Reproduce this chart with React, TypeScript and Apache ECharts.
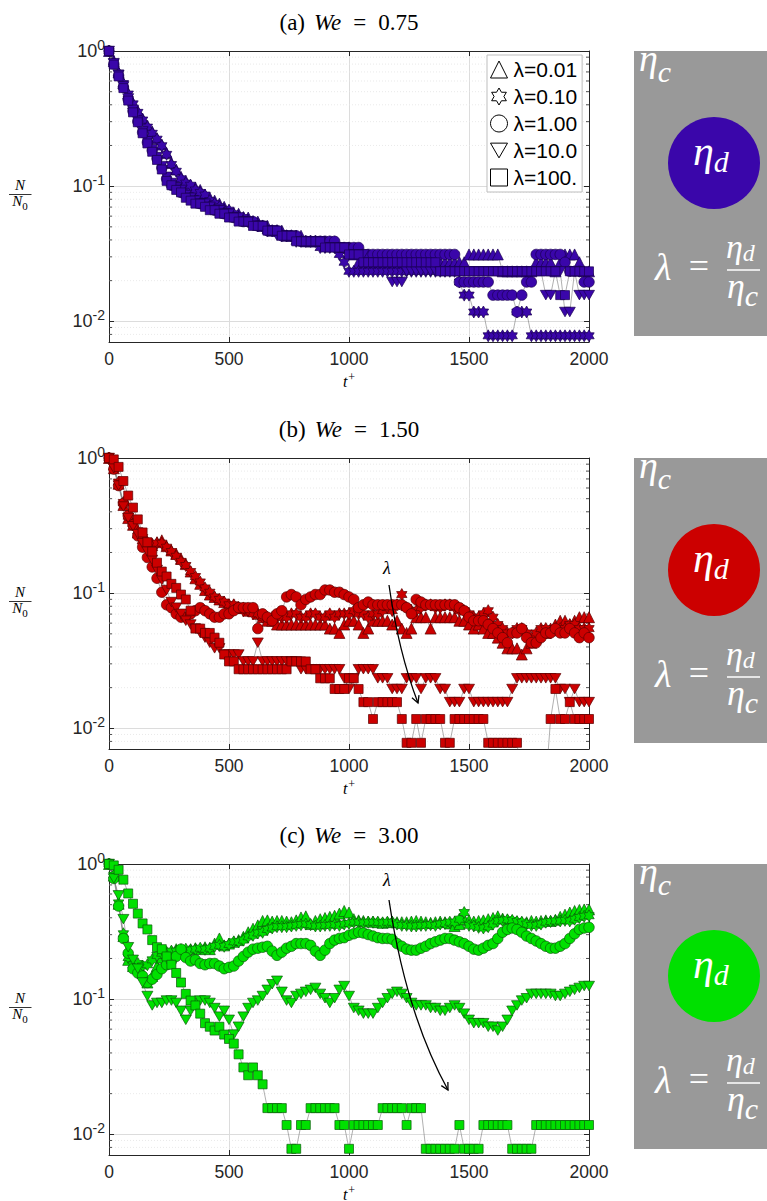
import React, { useEffect, useRef } from "react";
import * as echarts from "echarts";

// ---------------- data ----------------
const N0 = 256; // initial number of droplets (N values are counts out of N0)
const TIMES = [
  0, 20, 40, 60, 80, 100, 120, 140, 160, 180, 200, 220, 240, 260, 280, 300, 320, 340, 360, 380,
  400, 420, 440, 460, 480, 500, 520, 540, 560, 580, 600, 620, 640, 660, 680, 700, 720, 740, 760, 780,
  800, 820, 840, 860, 880, 900, 920, 940, 960, 980, 1000, 1020, 1040, 1060, 1080, 1100, 1120, 1140, 1160, 1180,
  1200, 1220, 1240, 1260, 1280, 1300, 1320, 1340, 1360, 1380, 1400, 1420, 1440, 1460, 1480, 1500, 1520, 1540, 1560, 1580,
  1600, 1620, 1640, 1660, 1680, 1700, 1720, 1740, 1760, 1780, 1800, 1820, 1840, 1860, 1880, 1900, 1920, 1940, 1960, 1980,
  2000,
];
const LAMBDA_LABELS = ["λ=0.01", "λ=0.10", "λ=1.00", "λ=10.0", "λ=100."];
const PANEL_TAGS = ["(a)", "(b)", "(c)"];
const WE_VALUES = ["0.75", "1.50", "3.00"];
const X_MIN = 0;
const X_MAX = 2000;
const X_INTERVAL = 500;
const Y_MIN = 0.00703;
const Y_MAX = 1;
const MINOR_Y = [0.008, 0.009, 0.02, 0.03, 0.04, 0.05, 0.06, 0.07, 0.08, 0.09, 0.2, 0.3, 0.4, 0.5, 0.6, 0.7, 0.8, 0.9];

// (a) We = 0.75
const A_L001 = [
  256, 215, 178, 148, 124, 105, 92, 81, 72, 65,
  58, 52, 45, 38, 34, 30, 28, 26, 25, 24,
  22, 21, 20, 19, 18, 17, 16, 16, 15, 15,
  14, 14, 13, 13, 12, 12, 12, 11, 11, 11,
  11, 10, 10, 10, 10, 10, 10, 10, 9, 9,
  9, 8, 7, 7, 7, 7, 7, 7, 7, 7,
  7, 7, 7, 7, 7, 7, 7, 7, 7, 7,
  7, 7, 7, 7, 7, 8, 8, 8, 8, 8,
  8, 8, 6, 6, 6, 6, 6, 6, 6, 7,
  7, 7, 7, 6, 7, 8, 8, 8, 7, 6,
  6,
];
const A_L01 = [
  256, 212, 176, 147, 123, 104, 90, 79, 70, 63,
  57, 51, 44, 37, 33, 29, 27, 26, 24, 23,
  22, 20, 19, 18, 17, 17, 16, 15, 15, 14,
  14, 13, 13, 12, 12, 12, 11, 11, 11, 10,
  10, 10, 10, 10, 9, 9, 9, 9, 8, 7,
  6, 6, 6, 6, 6, 6, 6, 6, 6, 6,
  6, 6, 6, 6, 6, 6, 6, 6, 6, 6,
  6, 6, 6, 5, 4, 4, 3, 3, 3, 2,
  2, 2, 2, 2, 2, 3, 3, 3, 2, 2,
  2, 2, 2, 2, 2, 2, 2, 2, 2, 2,
  2,
];
const A_L1 = [
  256, 205, 168, 138, 112, 92, 77, 64, 54, 47,
  41, 35, 29, 26, 25, 23, 22, 21, 20, 19,
  19, 18, 17, 17, 16, 16, 15, 15, 14, 14,
  14, 13, 13, 12, 12, 12, 11, 11, 11, 11,
  10, 10, 10, 10, 10, 10, 10, 10, 9, 9,
  9, 9, 9, 8, 8, 8, 8, 8, 8, 8,
  8, 8, 8, 8, 8, 8, 8, 8, 8, 8,
  8, 8, 8, 5, 5, 5, 5, 5, 5, 5,
  4, 4, 4, 4, 4, 3, 4, 5, 5, 8,
  8, 8, 8, 8, 8, 7, 6, 6, 6, 5,
  5,
];
const A_L10 = [
  256, 208, 170, 140, 114, 94, 78, 65, 55, 48,
  42, 36, 30, 27, 25, 24, 22, 21, 20, 19,
  19, 18, 17, 17, 16, 16, 15, 15, 14, 14,
  13, 13, 13, 12, 12, 11, 11, 11, 11, 10,
  10, 10, 10, 10, 10, 9, 9, 9, 9, 9,
  8, 8, 8, 8, 7, 7, 7, 7, 7, 5,
  5, 5, 6, 6, 6, 6, 6, 6, 6, 6,
  6, 6, 6, 6, 6, 6, 6, 6, 6, 6,
  6, 6, 6, 6, 6, 6, 6, 6, 6, 6,
  6, 4, 4, 6, 6, 3, 3, 6, 4, 4,
  4,
];
const A_L100 = [
  256, 203, 166, 136, 110, 90, 76, 63, 53, 46,
  40, 34, 28, 26, 24, 23, 21, 20, 19, 19,
  18, 17, 17, 16, 16, 15, 15, 14, 14, 14,
  13, 13, 13, 12, 12, 12, 11, 11, 11, 10,
  10, 10, 10, 10, 10, 9, 9, 9, 9, 9,
  8, 8, 8, 7, 7, 7, 7, 7, 7, 7,
  7, 7, 7, 7, 7, 7, 7, 7, 7, 6,
  6, 6, 6, 6, 6, 6, 6, 6, 6, 6,
  6, 6, 6, 6, 6, 6, 6, 6, 6, 6,
  6, 6, 6, 6, 4, 4, 6, 6, 6, 6,
  6,
];

// (b) We = 1.50
const B_L001 = [
  256, 215, 165, 115, 92, 82, 72, 65, 60, 58,
  61, 63, 57, 53, 50, 46, 42, 37, 33, 30,
  27, 25, 24, 23, 22, 21, 21, 20, 20, 19,
  19, 18, 17, 16, 16, 15, 15, 15, 15, 15,
  15, 15, 15, 15, 15, 15, 14, 14, 13, 15,
  16, 16, 15, 13, 14, 16, 16, 16, 16, 15,
  16, 14, 13, 14, 17, 17, 17, 14, 17, 17,
  17, 17, 17, 16, 16, 15, 14, 15, 14, 13,
  13, 12, 11, 10, 10, 10, 9, 10, 11, 12,
  13, 13, 14, 15, 16, 16, 15, 16, 17, 17,
  17,
];
const B_L01 = [
  256, 220, 170, 120, 95, 84, 74, 66, 61, 59,
  60, 60, 56, 52, 48, 44, 41, 37, 34, 31,
  28, 26, 24, 23, 22, 21, 21, 20, 19, 19,
  18, 18, 17, 17, 17, 17, 17, 17, 18, 18,
  17, 17, 18, 18, 17, 17, 18, 17, 18, 18,
  18, 19, 18, 18, 17, 18, 18, 19, 20, 19,
  21, 25, 20, 19, 19, 20, 21, 21, 20, 20,
  21, 21, 20, 19, 19, 18, 17, 17, 18, 19,
  17, 15, 14, 13, 13, 14, 14, 13, 12, 13,
  14, 14, 13, 14, 14, 14, 15, 15, 14, 14,
  14,
];
const B_L1 = [
  256, 212, 160, 118, 96, 82, 68, 56, 47, 40,
  33, 26, 21, 20, 18, 17, 17, 18, 19, 20,
  19, 18, 17, 17, 18, 18, 19, 20, 20, 20,
  20, 14, 18, 17, 16, 18, 19, 24, 25, 24,
  21, 23, 24, 25, 25, 27, 27, 26, 26, 25,
  24, 23, 20, 21, 22, 21, 21, 21, 21, 21,
  21, 21, 20, 18, 23, 22, 21, 21, 21, 21,
  21, 21, 21, 20, 19, 17, 16, 16, 16, 15,
  14, 13, 12, 11, 13, 13, 14, 12, 11, 11,
  12, 13, 13, 14, 13, 13, 14, 13, 12, 13,
  12,
];
const B_L10 = [
  256, 215, 160, 112, 92, 80, 70, 60, 52, 45,
  38, 32, 27, 22, 20, 18, 16, 15, 14, 13,
  12, 11, 10, 10, 9, 9, 9, 9, 8, 8,
  8, 11, 8, 8, 8, 8, 8, 8, 8, 8,
  7, 7, 7, 7, 7, 7, 7, 7, 7, 6,
  5, 6, 7, 7, 7, 7, 6, 6, 6, 5,
  5, 5, 6, 6, 6, 5, 6, 6, 6, 5,
  5, 4, 4, 4, 5, 5, 4, 4, 4, 4,
  4, 4, 4, 4, 5, 6, 6, 6, 6, 6,
  6, 6, 6, 6, 5, 5, 4, 5, 4, 4,
  4,
];
const B_L100 = [
  256, 250, 220, 173, 135, 110, 90, 72, 61, 52,
  43, 37, 34, 30, 28, 25, 23, 19, 14, 14,
  13, 13, 12, 11, 9, 8, 8, 7, 7, 7,
  7, 7, 7, 7, 7, 7, 7, 7, 8, 8,
  8, 8, 7, 7, 6, 6, 6, 5, 5, 5,
  6, 6, 5, 4, 4, 3, 4, 4, 4, 4,
  4, 3, 2, 2, 3, 2, 3, 3, 3, 3,
  2, 2, 3, 3, 3, 3, 3, 3, 3, 2,
  2, 2, 2, 2, 2, 2, 1, 1, 1, 1,
  1, 1, 3, 5, 3, 3, 4, 3, 3, 3,
  3,
];

// (c) We = 3.00
const C_L001 = [
  256, 210, 130, 75, 50, 45, 44, 40, 34, 38,
  45, 52, 56, 58, 60, 60, 59, 60, 61, 60,
  62, 60, 66, 72, 64, 66, 68, 70, 74, 80,
  85, 90, 97, 98, 96, 97, 97, 96, 95, 98,
  103, 105, 92, 97, 100, 102, 104, 106, 110, 115,
  112, 100, 98, 97, 96, 96, 95, 94, 95, 96,
  95, 95, 95, 96, 97, 96, 95, 94, 95, 96,
  95, 93, 89, 92, 100, 98, 96, 97, 98, 100,
  102, 105, 101, 99, 97, 96, 95, 95, 97, 96,
  97, 98, 97, 99, 104, 108, 112, 115, 117, 118,
  118,
];
const C_L01 = [
  256, 212, 132, 78, 52, 46, 47, 45, 46, 50,
  54, 56, 57, 58, 58, 59, 60, 59, 60, 61,
  60, 61, 63, 64, 63, 65, 68, 68, 70, 74,
  76, 79, 80, 84, 86, 88, 88, 88, 89, 90,
  91, 92, 91, 89, 89, 90, 90, 91, 90, 92,
  93, 95, 95, 94, 95, 95, 95, 94, 95, 95,
  92, 90, 90, 89, 89, 90, 90, 91, 90, 92,
  93, 95, 95, 100, 112, 90, 89, 87, 86, 88,
  92, 97, 98, 99, 98, 96, 95, 92, 90, 90,
  92, 95, 96, 97, 97, 98, 97, 100, 103, 105,
  106,
];
const C_L1 = [
  256, 200, 125, 72, 56, 43, 40, 38, 34, 36,
  39, 43, 46, 49, 53, 60, 52, 49, 50, 47,
  46, 47, 47, 45, 43, 44, 45, 49, 53, 57,
  60, 61, 62, 63, 58, 54, 57, 61, 63, 66,
  66, 66, 64, 58, 54, 59, 66, 70, 72, 73,
  76, 78, 80, 79, 77, 75, 73, 72, 72, 71,
  66, 63, 60, 59, 59, 61, 63, 66, 68, 70,
  72, 72, 70, 68, 66, 63, 60, 59, 61, 64,
  66, 72, 80, 84, 86, 84, 80, 75, 72, 69,
  66, 63, 61, 61, 63, 66, 72, 78, 84, 86,
  87,
];
const C_L10 = [
  256, 200, 150, 100, 62, 50, 43, 34, 27, 23,
  24, 24, 25, 25, 24, 21, 18, 21, 24, 25,
  25, 24, 22, 19, 21, 18, 14, 16, 19, 22,
  24, 25, 27, 30, 33, 35, 29, 25, 24, 27,
  28, 29, 30, 31, 28, 26, 24, 26, 30, 32,
  27, 22, 21, 20, 20, 20, 22, 24, 26, 28,
  29, 28, 26, 24, 23, 23, 23, 22, 22, 21,
  21, 22, 23, 22, 20, 18, 17, 17, 17, 16,
  16, 15, 16, 18, 21, 23, 25, 26, 28, 28,
  28, 28, 28, 27, 27, 28, 29, 30, 31, 32,
  32,
];
const C_L100 = [
  256, 250, 232, 196, 155, 130, 110, 93, 84, 70,
  62, 60, 53, 46, 40, 34, 28, 25, 23, 20,
  17, 16, 15, 16, 14, 13, 12, 10, 8, 7,
  8, 7, 6, 4, 4, 4, 4, 3, 2, 2,
  3, 3, 4, 4, 4, 4, 4, 4, 3, 3,
  2, 3, 3, 3, 3, 3, 3, 4, 4, 4,
  4, 4, 3, 4, 4, 4, 2, 2, 2, 2,
  2, 2, 2, 3, 2, 2, 2, 2, 3, 3,
  3, 3, 3, 3, 2, 2, 2, 2, 2, 3,
  3, 3, 3, 3, 3, 3, 3, 3, 3, 3,
  3,
];

const PANEL_DATA = [
  [A_L001, A_L01, A_L1, A_L10, A_L100],
  [B_L001, B_L01, B_L1, B_L10, B_L100],
  [C_L001, C_L01, C_L1, C_L10, C_L100],
];

// ---------------- styling / layout ----------------
const SANS = "'Liberation Sans', Arial, Helvetica, sans-serif";
const SERIF = "'Liberation Serif', 'DejaVu Serif', serif";
const AXIS_C = "#262626";
const GRID_C = "#dcdcdc";
const FILLS = ["#3a06aa", "#cc0000", "#00e000"];
const EDGES = ["#1a0050", "#5a0000", "#0a5a0a"];
const DISC = ["#3a06aa", "#cc0000", "#00e000"];
const HEX =
  "path://M10,0L12.89,5L18.66,5L15.77,10L18.66,15L12.89,15L10,20L7.11,15L1.34,15L4.23,10L1.34,5L7.11,5Z";
const DOWN = "path://M0,0L20,0L10,17.32Z";
const SYMBOLS = ["triangle", HEX, "circle", DOWN, "rect"];
const SYMBOL_SIZES = [11, 12, 10.5, 11, 9];

const GRID_LEFT = 109;
const GRID_W = 480;
const GRID_H = 291;
const GRID_TOPS = [51, 458, 864];
const PANEL_X = 634;

const yFmt = (v: number) => {
  const e = Math.log10(v);
  const r = Math.round(e);
  if (Math.abs(e - r) > 1e-6) return "";
  return `{b|10}{s|${r}}`;
};

function arrowEls(p0: number[], c: number[], p2: number[]) {
  const dx = p2[0] - c[0];
  const dy = p2[1] - c[1];
  const len = Math.hypot(dx, dy);
  const bx = -dx / len;
  const by = -dy / len;
  const a = (28 * Math.PI) / 180;
  const L = 8;
  const r1 = [bx * Math.cos(a) - by * Math.sin(a), bx * Math.sin(a) + by * Math.cos(a)];
  const r2 = [bx * Math.cos(-a) - by * Math.sin(-a), bx * Math.sin(-a) + by * Math.cos(-a)];
  return [
    {
      type: "bezierCurve",
      shape: { x1: p0[0], y1: p0[1], x2: p2[0], y2: p2[1], cpx1: c[0], cpy1: c[1] },
      style: { stroke: "#000", lineWidth: 1.3, fill: null },
      z: 20,
    },
    {
      type: "polyline",
      shape: {
        points: [
          [p2[0] + r1[0] * L, p2[1] + r1[1] * L],
          [p2[0], p2[1]],
          [p2[0] + r2[0] * L, p2[1] + r2[1] * L],
        ],
      },
      style: { stroke: "#000", lineWidth: 1.3, fill: null },
      z: 20,
    },
  ];
}

const ARROWS: any[] = [
  null,
  { label: [387, 568], p0: [389, 585], c: [398.5, 652], p2: [418, 703] },
  { label: [387, 880], p0: [389, 900], c: [406, 1013.75], p2: [448, 1090] },
];

// eta with subscript as one rich text
function etaSub(x: number, y: number, sub: string, fs: number, sfs: number, lift: number) {
  return {
    type: "text",
    x,
    y,
    z: 5,
    style: {
      text: `{e|η}{s|${sub}}`,
      align: "left",
      verticalAlign: "middle",
      rich: {
        e: {
          fontFamily: SERIF,
          fontStyle: "italic",
          fontSize: fs,
          lineHeight: fs,
          fill: "#ffffff",
          verticalAlign: "bottom",
          padding: [0, 0, lift, 0],
        },
        s: {
          fontFamily: SERIF,
          fontStyle: "italic",
          fontSize: sfs,
          lineHeight: sfs,
          fill: "#ffffff",
          verticalAlign: "bottom",
        },
      },
    },
  };
}

function buildOption() {
  const grids: any[] = [];
  const xAxes: any[] = [];
  const yAxes: any[] = [];
  const series: any[] = [];
  const graphics: any[] = [];

  GRID_TOPS.forEach((top, g) => {
    grids.push({
      left: GRID_LEFT,
      top,
      width: GRID_W,
      height: GRID_H,
      containLabel: false,
      outerBoundsMode: "none",
      show: false,
    });
    const xBase = {
      type: "value",
      gridIndex: g,
      min: X_MIN,
      max: X_MAX,
      interval: X_INTERVAL,
      axisLine: { show: true, onZero: false, lineStyle: { color: AXIS_C, width: 1 } },
      axisTick: { show: true, inside: true, length: 5, lineStyle: { color: AXIS_C, width: 1 } },
    };
    xAxes.push({
      ...xBase,
      position: "bottom",
      axisLabel: {
        show: true,
        margin: 8,
        fontSize: 17.5,
        fontFamily: SANS,
        color: AXIS_C,
        formatter: (v: number) => String(v),
      },
      splitLine: { show: true, lineStyle: { color: GRID_C, width: 1 } },
    });
    xAxes.push({
      ...xBase,
      position: "top",
      axisLabel: { show: false },
      splitLine: { show: false },
    });
    const yBase = {
      type: "log",
      logBase: 10,
      gridIndex: g,
      min: Y_MIN,
      max: Y_MAX,
      axisLine: { show: true, onZero: false, lineStyle: { color: AXIS_C, width: 1 } },
      axisTick: { show: true, inside: true, length: 5, lineStyle: { color: AXIS_C, width: 1 } },
      minorTick: { show: false },
      minorSplitLine: { show: false },
    };
    yAxes.push({
      ...yBase,
      position: "left",
      axisLabel: {
        show: true,
        margin: 4,
        formatter: yFmt,
        rich: {
          b: { fontSize: 18, fontFamily: SANS, color: AXIS_C, verticalAlign: "bottom", lineHeight: 18 },
          s: {
            fontSize: 14,
            fontFamily: SANS,
            color: AXIS_C,
            verticalAlign: "bottom",
            lineHeight: 14,
            padding: [0, 0, 8, 0],
          },
        },
      },
      splitLine: { show: true, lineStyle: { color: GRID_C, width: 1 } },
    });
    yAxes.push({
      ...yBase,
      position: "right",
      axisLabel: { show: false },
      splitLine: { show: false },
    });

    // minor log grid lines and minor ticks
    series.push({
      type: "custom",
      name: `minor${g}`,
      xAxisIndex: 2 * g,
      yAxisIndex: 2 * g,
      silent: true,
      z: 1,
      data: MINOR_Y.map((v) => [X_MIN, v]),
      renderItem: (params: any, api: any) => {
        const v = api.value(1);
        const p0 = api.coord([X_MIN, v]);
        const p1 = api.coord([X_MAX, v]);
        return {
          type: "group",
          children: [
            {
              type: "line",
              shape: { x1: p0[0], y1: p0[1], x2: p1[0], y2: p1[1] },
              style: { stroke: "#e4e4e4", lineWidth: 0.8, lineDash: [1, 2] },
            },
            {
              type: "line",
              shape: { x1: p0[0], y1: p0[1], x2: p0[0] + 3, y2: p0[1] },
              style: { stroke: AXIS_C, lineWidth: 0.8 },
            },
            {
              type: "line",
              shape: { x1: p1[0] - 3, y1: p1[1], x2: p1[0], y2: p1[1] },
              style: { stroke: AXIS_C, lineWidth: 0.8 },
            },
          ],
        };
      },
    });

    PANEL_DATA[g].forEach((counts, k) => {
      series.push({
        type: "line",
        name: g === 0 ? LAMBDA_LABELS[k] : `${PANEL_TAGS[g]} ${LAMBDA_LABELS[k]}`,
        xAxisIndex: 2 * g,
        yAxisIndex: 2 * g,
        data: TIMES.map((t, i) => [t, counts[i] / N0]),
        symbol: SYMBOLS[k],
        symbolSize: SYMBOL_SIZES[k],
        symbolKeepAspect: true,
        showSymbol: true,
        showAllSymbol: true,
        clip: true,
        silent: true,
        z: 3,
        lineStyle: { color: "#7a7a7a", width: 0.6 },
        itemStyle: { color: FILLS[g], borderColor: EDGES[g], borderWidth: 0.7 },
        emphasis: { disabled: true },
      });
    });

    const bottom = top + GRID_H;
    // panel title
    graphics.push({
      type: "text",
      x: GRID_LEFT + GRID_W / 2,
      y: top - 29,
      z: 10,
      style: {
        text: `{r|${PANEL_TAGS[g]}}{i|We}{e|=}{r|${WE_VALUES[g]}}`,
        align: "center",
        verticalAlign: "middle",
        rich: {
          r: { fontFamily: SERIF, fontSize: 23, fill: "#000" },
          i: { fontFamily: SERIF, fontStyle: "italic", fontSize: 23, fill: "#000", padding: [0, 0, 0, 9] },
          e: { fontFamily: SERIF, fontSize: 23, fill: "#000", padding: [0, 12, 0, 12] },
        },
      },
    });
    // y label N / N0
    graphics.push({
      type: "text",
      x: 20,
      y: top + 134,
      style: { text: "N", fontFamily: SERIF, fontStyle: "italic", fontSize: 15, fill: "#000", align: "center", verticalAlign: "middle" },
    });
    graphics.push({
      type: "line",
      shape: { x1: 9, y1: top + 143.5, x2: 31.5, y2: top + 143.5 },
      style: { stroke: "#000", lineWidth: 0.8 },
    });
    graphics.push({
      type: "text",
      x: 20,
      y: top + 153,
      style: {
        text: "{n|N}{z|0}",
        align: "center",
        verticalAlign: "middle",
        rich: {
          n: { fontFamily: SERIF, fontStyle: "italic", fontSize: 15, lineHeight: 15, fill: "#000", verticalAlign: "bottom", padding: [0, 0, 3, 0] },
          z: { fontFamily: SERIF, fontSize: 11, lineHeight: 11, fill: "#000", verticalAlign: "bottom" },
        },
      },
    });
    // x label t+
    graphics.push({
      type: "text",
      x: 349,
      y: bottom + 40,
      style: {
        text: "{t|t}{p|+}",
        align: "center",
        verticalAlign: "middle",
        rich: {
          t: { fontFamily: SERIF, fontStyle: "italic", fontSize: 16, lineHeight: 14, fill: "#000", verticalAlign: "bottom" },
          p: { fontFamily: SERIF, fontSize: 12, lineHeight: 10, fill: "#000", verticalAlign: "bottom", padding: [0, 0, 6, 1] },
        },
      },
    });

    // right schematic panel
    const pt = top;
    const white = "#ffffff";
    graphics.push({
      type: "rect",
      shape: { x: PANEL_X, y: pt, width: 140, height: 285 },
      style: { fill: "#999999" },
    });
    graphics.push({ type: "circle", shape: { cx: 714, cy: pt + 112, r: 46 }, style: { fill: DISC[g] } });
    graphics.push(etaSub(639, pt + 16, "c", 38, 30, 9));
    graphics.push(etaSub(693, pt + 104, "d", 42, 30, 4));
    graphics.push({
      type: "text",
      x: 655,
      y: pt + 216,
      z: 5,
      style: { text: "λ", fontFamily: SERIF, fontStyle: "italic", fontSize: 38, fill: white, verticalAlign: "middle" },
    });
    graphics.push({
      type: "text",
      x: 699,
      y: pt + 215,
      z: 5,
      style: { text: "=", fontFamily: SERIF, fontSize: 36, fill: white, align: "center", verticalAlign: "middle" },
    });
    graphics.push(etaSub(726, pt + 197, "d", 34, 24, 2));
    graphics.push({
      type: "line",
      shape: { x1: 727, y1: pt + 219, x2: 760, y2: pt + 219 },
      style: { stroke: white, lineWidth: 1.5 },
      z: 5,
    });
    graphics.push(etaSub(727, pt + 241, "c", 36, 30, 6));

    const ar = ARROWS[g];
    if (ar) {
      graphics.push({
        type: "text",
        x: ar.label[0],
        y: ar.label[1],
        z: 20,
        style: { text: "λ", fontFamily: SERIF, fontStyle: "italic", fontSize: 18, fill: "#000", align: "center", verticalAlign: "middle" },
      });
      arrowEls(ar.p0, ar.c, ar.p2).forEach((e) => graphics.push(e));
    }
  });

  return {
    animation: false,
    backgroundColor: "#ffffff",
    grid: grids,
    xAxis: xAxes,
    yAxis: yAxes,
    series,
    graphic: { elements: graphics },
    legend: {
      show: true,
      left: 487,
      top: 55,
      orient: "vertical",
      selectedMode: false,
      data: LAMBDA_LABELS.map((n, k) => ({ name: n, icon: SYMBOLS[k] })),
      itemWidth: 17,
      itemHeight: 17,
      itemGap: 6,
      padding: [4, 5, 4, 3],
      backgroundColor: "#ffffff",
      borderColor: "#bdbdbd",
      borderWidth: 1,
      borderRadius: 0,
      z: 30,
      textStyle: { fontFamily: SANS, fontSize: 21, color: "#000", padding: [0, 0, 0, 1] },
      itemStyle: { color: "#ffffff", borderColor: "#000000", borderWidth: 1 },
    },
  };
}

export default function App() {
  const ref = useRef<HTMLDivElement>(null);
  useEffect(() => {
    if (!ref.current) return;
    const chart = echarts.init(ref.current, null, { renderer: "svg" });
    chart.setOption(buildOption() as any);
    return () => {
      chart.dispose();
    };
  }, []);
  return (
    <div
      ref={ref}
      style={{ position: "absolute", left: 0, top: 0, width: 767, height: 1201, background: "#fff" }}
    />
  );
}
